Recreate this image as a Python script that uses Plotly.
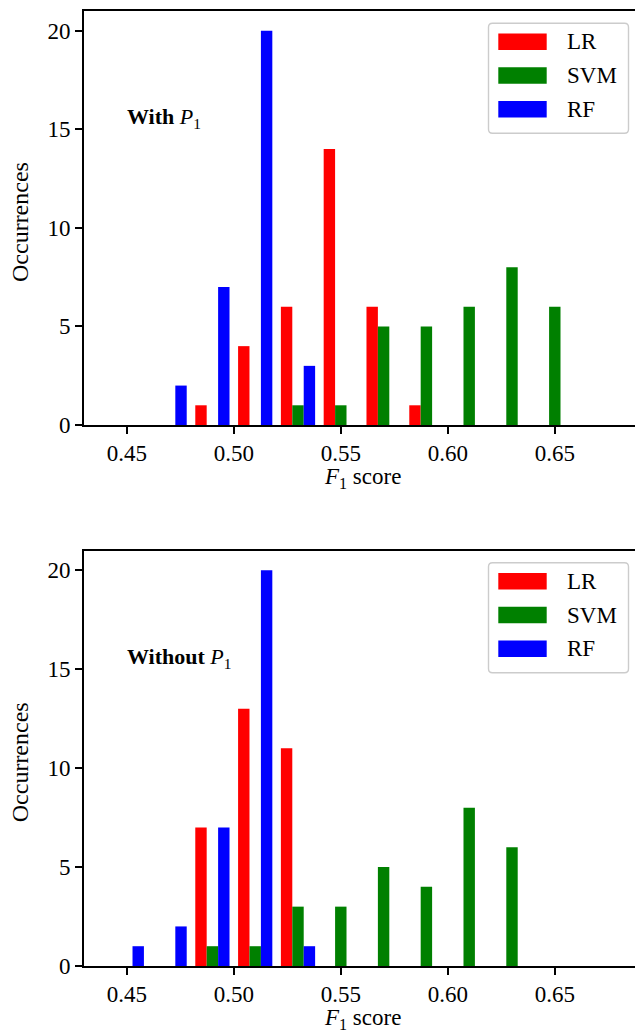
import plotly.graph_objects as go

# Histogram counts of F1 scores (bin width 0.02) for three classifiers
bin_width = 0.02
with_bin_start = 0.46
without_bin_start = 0.44

with_lr = [0, 1, 4, 6, 14, 6, 1, 0, 0, 0]
with_svm = [0, 0, 0, 1, 1, 5, 5, 6, 8, 6]
with_rf = [2, 7, 20, 3, 0, 0, 0, 0, 0, 0]

without_lr = [0, 0, 7, 13, 11, 0, 0, 0, 0, 0]
without_svm = [0, 0, 1, 1, 3, 3, 5, 4, 8, 6]
without_rf = [1, 2, 7, 20, 1, 0, 0, 0, 0, 0]

series_names = ["LR", "SVM", "RF"]
series_colors = ["#ff0000", "#008000", "#0000ff"]
x_ticks = [0.45, 0.50, 0.55, 0.60, 0.65]
x_tick_labels = ["0.45", "0.50", "0.55", "0.60", "0.65"]
y_ticks = [0, 5, 10, 15, 20]
panel_titles = ["<b>With</b> <i>P</i><sub>1</sub>", "<b>Without</b> <i>P</i><sub>1</sub>"]

FONT = "Liberation Serif"
W, H = 635, 1031
ML, MR, MT, MB = 84, 0, 11, 65
PW = W - ML - MR
PH = H - MT - MB


def px_x(px):
    return (px - ML) / PW


def px_y(py):
    return (H - MB - py) / PH


def centers(start, n):
    return [round(start + bin_width * (i + 0.5), 4) for i in range(n)]


panels = [
    (with_bin_start, [with_lr, with_svm, with_rf], "x", "y", 11.0, 425.0),
    (without_bin_start, [without_lr, without_svm, without_rf], "x2", "y2", 550.5, 966.0),
]

fig = go.Figure()
for start, counts, xa, ya, top_px, bot_px in panels:
    xs = centers(start, len(counts[0]))
    for name, color, vals in zip(series_names, series_colors, counts):
        fig.add_trace(go.Bar(
            x=xs, y=vals, name=name, xaxis=xa, yaxis=ya,
            marker=dict(color=color, line=dict(width=0)),
            showlegend=False,
        ))

axis_common = dict(
    showline=True, linecolor="black", linewidth=1.6,
    ticks="outside", ticklen=7, tickwidth=1.6, tickcolor="black",
    showgrid=False, zeroline=False,
    tickfont=dict(family=FONT, size=23, color="black"),
)

layout = dict(
    width=W, height=H,
    margin=dict(l=ML, r=MR, t=MT, b=MB),
    paper_bgcolor="white", plot_bgcolor="white",
    barmode="group", bargap=0.2, bargroupgap=0.0,
    showlegend=False,
    font=dict(family=FONT, color="black"),
)

shapes = []
annotations = []
for idx, (start, counts, xa, ya, top_px, bot_px) in enumerate(panels):
    xkey = "xaxis" if xa == "x" else "xaxis2"
    ykey = "yaxis" if ya == "y" else "yaxis2"
    layout[xkey] = dict(
        axis_common, domain=[0, 1], range=[0.43, 0.43 + PW / 2140.0],
        tickvals=x_ticks, ticktext=x_tick_labels, mirror=True,
        anchor=ya,
    )
    layout[ykey] = dict(
        axis_common, domain=[px_y(bot_px), px_y(top_px)], range=[0, 21],
        tickvals=y_ticks, ticktext=[str(v) for v in y_ticks],
        anchor=xa,
    )

    # axis titles
    annotations.append(dict(
        xref="paper", yref="paper", x=px_x(362.5), y=px_y(bot_px + 53),
        text="<i>F</i><sub>1</sub> score", showarrow=False,
        xanchor="center", yanchor="middle",
        font=dict(family=FONT, size=23, color="black"),
    ))
    annotations.append(dict(
        xref="paper", yref="paper", x=px_x(20), y=px_y((top_px + bot_px) / 2 + 4),
        text="Occurrences", showarrow=False, textangle=-90,
        xanchor="center", yanchor="middle",
        font=dict(family=FONT, size=24, color="black"),
    ))

    # panel label
    annotations.append(dict(
        xref="paper", yref="paper", x=px_x(125), y=px_y(top_px + 107),
        text=panel_titles[idx], showarrow=False,
        xanchor="left", yanchor="middle",
        font=dict(family=FONT, size=22, color="black"),
    ))

    # legend frame with rounded corners
    x0, x1 = 488.5, 628.5
    y0, y1 = top_px + 12.3, top_px + 122.3
    r = 4.0
    rx, ry = r / PW, r / PH
    X0, X1 = px_x(x0), px_x(x1)
    Y0, Y1 = px_y(y0), px_y(y1)
    path = (
        f"M {X0 + rx},{Y0} L {X1 - rx},{Y0} Q {X1},{Y0} {X1},{Y0 - ry} "
        f"L {X1},{Y1 + ry} Q {X1},{Y1} {X1 - rx},{Y1} "
        f"L {X0 + rx},{Y1} Q {X0},{Y1} {X0},{Y1 + ry} "
        f"L {X0},{Y0 - ry} Q {X0},{Y0} {X0 + rx},{Y0} Z"
    )
    shapes.append(dict(
        type="path", xref="paper", yref="paper", path=path,
        line=dict(color="#cccccc", width=1.4), fillcolor="rgba(255,255,255,0.8)",
        layer="above",
    ))
    for k, (name, color) in enumerate(zip(series_names, series_colors)):
        cy = top_px + 30.7 + 33.8 * k
        shapes.append(dict(
            type="rect", xref="paper", yref="paper",
            x0=px_x(498.3), x1=px_x(546.7), y0=px_y(cy - 8.3), y1=px_y(cy + 8.3),
            line=dict(width=0), fillcolor=color, layer="above",
        ))
        annotations.append(dict(
            xref="paper", yref="paper", x=px_x(565), y=px_y(cy),
            text=name, showarrow=False, xanchor="left", yanchor="middle",
            font=dict(family=FONT, size=23, color="black"),
        ))

layout["shapes"] = shapes
layout["annotations"] = annotations
fig.update_layout(**layout)

fig.write_html("out.html")
